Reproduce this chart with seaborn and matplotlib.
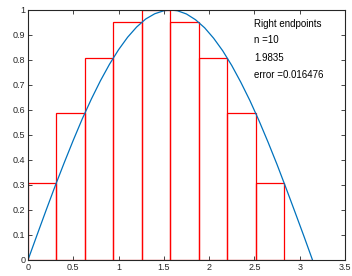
import numpy as np
import pandas as pd
import matplotlib
matplotlib.use("Agg")
import matplotlib.pyplot as plt
import seaborn as sns

# right-endpoint rectangles (left edge, height)
rect_left = [0.0, 0.314, 0.628, 0.942, 1.257, 1.571, 1.885, 2.199, 2.513, 2.827]
rect_height = [0.309, 0.588, 0.809, 0.951, 1.0, 0.951, 0.809, 0.588, 0.309, 0.0]
rect_width = 0.314

# curve
curve_x = [0.0, 0.1, 0.2, 0.3, 0.4, 0.5, 0.6, 0.7, 0.8, 0.9, 1.0, 1.1, 1.2, 1.3, 1.4, 1.5,
           1.571, 1.65, 1.75, 1.85, 1.95, 2.05, 2.15, 2.25, 2.35, 2.45, 2.55, 2.65, 2.75,
           2.85, 2.95, 3.05, 3.1416]
curve_y = [0.0, 0.100, 0.199, 0.296, 0.389, 0.479, 0.565, 0.644, 0.717, 0.783, 0.841, 0.891,
           0.932, 0.964, 0.985, 0.997, 1.0, 0.997, 0.984, 0.961, 0.929, 0.887, 0.837, 0.778,
           0.711, 0.638, 0.558, 0.472, 0.382, 0.287, 0.190, 0.092, 0.0]

labels = ["Right endpoints", "n =10", "1.9835", "error =0.016476"]
label_y = [0.944, 0.878, 0.806, 0.74]

x_ticks = [0, 0.5, 1, 1.5, 2, 2.5, 3, 3.5]
y_ticks = [0, 0.1, 0.2, 0.3, 0.4, 0.5, 0.6, 0.7, 0.8, 0.9, 1]

sns.set_style("ticks")
plt.rcParams['font.family'] = ['Liberation Sans', 'DejaVu Sans']

axis_col = '#262626'
fig = plt.figure(figsize=(3.52, 2.76), dpi=100)
ax = fig.add_axes([0.0795, 0.058, 0.9005, 0.9058])

ax.bar(rect_left, rect_height, width=rect_width, align='edge',
       facecolor='none', edgecolor='#ff0000', linewidth=0.9)

df = pd.DataFrame({'x': curve_x, 'y': curve_y})
sns.lineplot(data=df, x='x', y='y', ax=ax, color='#0072bd', linewidth=0.9, sort=False)

for t, yy in zip(labels, label_y):
    ax.text(2.495, yy, t, fontsize=7, color='black', va='center', ha='left')

ax.set_xlim(0, 3.5)
ax.set_ylim(0, 1)
ax.set_xticks(x_ticks)
ax.set_xticklabels(['0', '0.5', '1', '1.5', '2', '2.5', '3', '3.5'])
ax.set_yticks(y_ticks)
ax.set_yticklabels(['0', '0.1', '0.2', '0.3', '0.4', '0.5', '0.6', '0.7', '0.8', '0.9', '1'])
ax.set_xlabel('')
ax.set_ylabel('')
for s in ax.spines.values():
    s.set_visible(True)
    s.set_color(axis_col)
    s.set_linewidth(0.8)
ax.tick_params(direction='in', length=3, width=0.6, color=axis_col, labelcolor=axis_col,
               labelsize=6.5, top=True, right=True, pad=2)

fig.savefig('out.png', dpi=100)
